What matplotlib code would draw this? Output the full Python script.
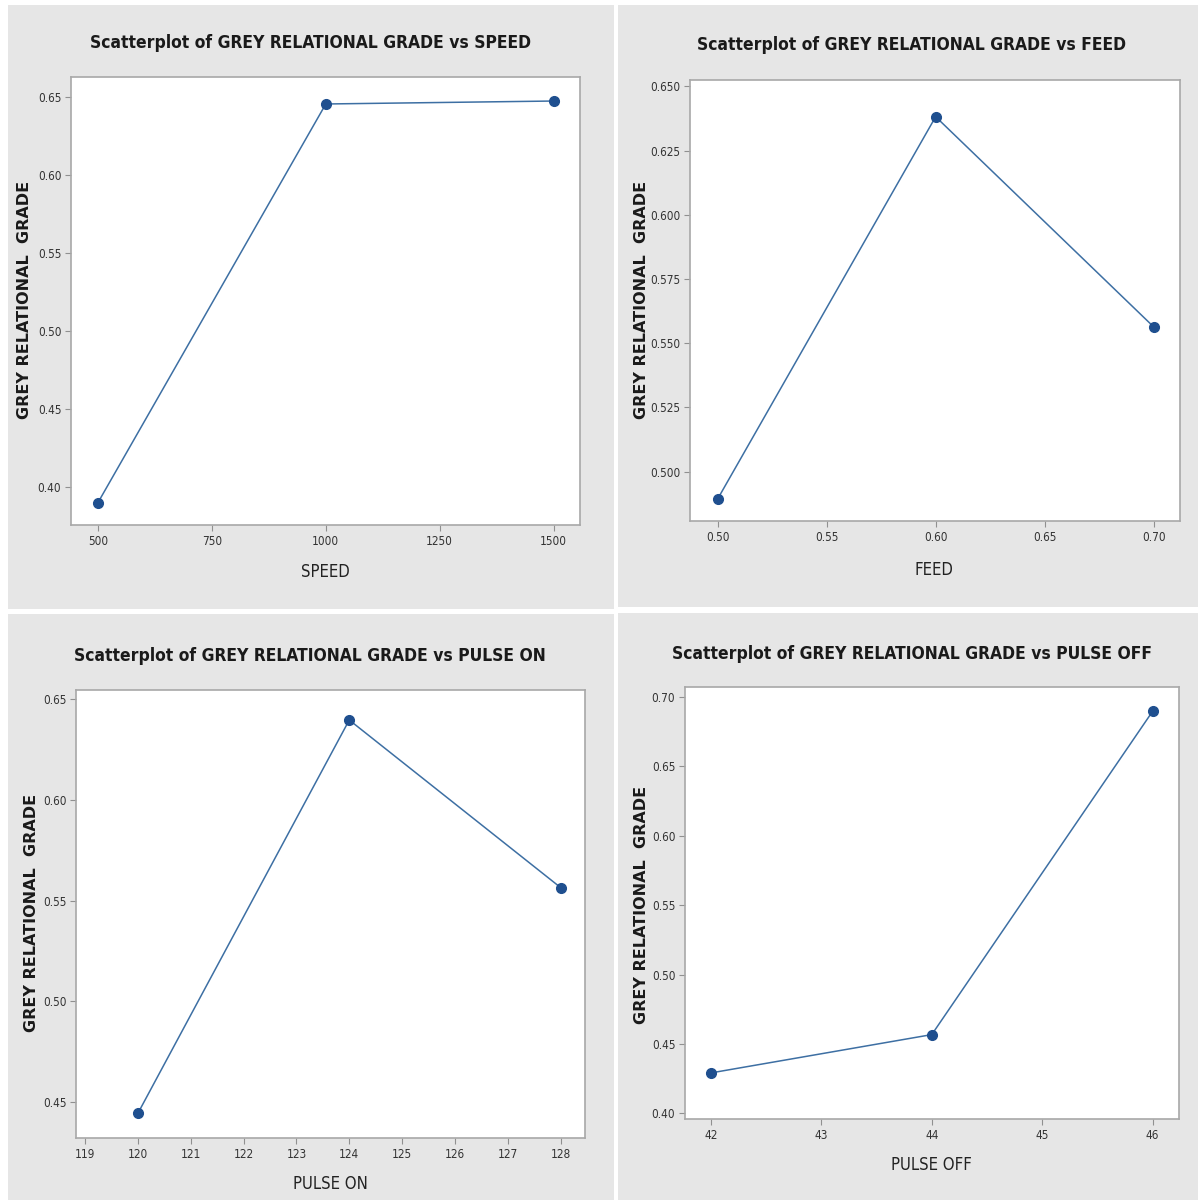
import matplotlib
matplotlib.use("Agg")
import matplotlib.pyplot as plt
from matplotlib.patches import Rectangle
from matplotlib import font_manager as fm

W, H = 1198, 1200

# Data
speed = [500, 1000, 1500]
grg_speed = [0.390, 0.6455, 0.6474]
feed = [0.50, 0.60, 0.70]
grg_feed = [0.4894, 0.6382, 0.5564]
pulse_on = [120, 124, 128]
grg_pulse_on = [0.4443, 0.6396, 0.5564]
pulse_off = [42, 44, 46]
grg_pulse_off = [0.4292, 0.4568, 0.6897]

speed_ticks = [500, 750, 1000, 1250, 1500]
speed_ytick = [0.40, 0.45, 0.50, 0.55, 0.60, 0.65]
feed_ticks = [0.50, 0.55, 0.60, 0.65, 0.70]
feed_ytick = [0.500, 0.525, 0.550, 0.575, 0.600, 0.625, 0.650]
pon_ticks = list(range(119, 129))
pon_ytick = [0.45, 0.50, 0.55, 0.60, 0.65]
poff_ticks = [42, 43, 44, 45, 46]
poff_ytick = [0.40, 0.45, 0.50, 0.55, 0.60, 0.65, 0.70]

cond = [f for f in fm.fontManager.ttflist if f.name == 'DejaVu Sans' and f.stretch == 'condensed']
NARROW = ['DejaVu Sans']
STRETCH = 'condensed' if cond else 'normal'
WIDE = ['DejaVu Sans']

fig = plt.figure(figsize=(W / 100, H / 100), dpi=100)
fig.patch.set_facecolor('white')

def px_rect(x0, y0, x1, y1):
    return [x0 / W, 1 - y1 / H, (x1 - x0) / W, (y1 - y0) / H]

panels = [
    (8, 5, 614, 609),
    (618, 5, 1198, 607),
    (8, 614, 614, 1200),
    (618, 613, 1198, 1200),
]
for (x0, y0, x1, y1) in panels:
    r = px_rect(x0, y0, x1, y1)
    fig.patches.append(Rectangle((r[0], r[1]), r[2], r[3], transform=fig.transFigure,
                                 facecolor='#e6e6e6', edgecolor='none', zorder=-5))

specs = [
    dict(box=(71, 77, 580, 525), x=speed, y=grg_speed, xt=speed_ticks, yt=speed_ytick,
         xlim=(440.7, 1558), ylim=(0.3756, 0.6628), yfmt='{:.2f}', xfmt='{:.0f}',
         title='Scatterplot of GREY RELATIONAL GRADE vs SPEED', title_xy=(311, 43),
         xlabel='SPEED', xl_xy=(325, 572), ylabel_x=25, ylabel_y=300),
    dict(box=(690, 80, 1180, 521), x=feed, y=grg_feed, xt=feed_ticks, yt=feed_ytick,
         xlim=(0.4873, 0.7121), ylim=(0.4808, 0.6525), yfmt='{:.3f}', xfmt='{:.2f}',
         title='Scatterplot of GREY RELATIONAL GRADE vs FEED', title_xy=(912, 45),
         xlabel='FEED', xl_xy=(934, 570), ylabel_x=641, ylabel_y=300),
    dict(box=(76, 690, 585, 1138), x=pulse_on, y=grg_pulse_on, xt=pon_ticks, yt=pon_ytick,
         xlim=(118.83, 128.46), ylim=(0.4321, 0.6545), yfmt='{:.2f}', xfmt='{:.0f}',
         title='Scatterplot of GREY RELATIONAL GRADE vs PULSE ON', title_xy=(310, 656),
         xlabel='PULSE ON', xl_xy=(330, 1184), ylabel_x=32, ylabel_y=913),
    dict(box=(685, 687, 1179, 1119), x=pulse_off, y=grg_pulse_off, xt=poff_ticks, yt=poff_ytick,
         xlim=(41.765, 46.239), ylim=(0.396, 0.7072), yfmt='{:.2f}', xfmt='{:.0f}',
         title='Scatterplot of GREY RELATIONAL GRADE vs PULSE OFF', title_xy=(912, 654),
         xlabel='PULSE OFF', xl_xy=(931, 1165), ylabel_x=642, ylabel_y=905),
]

tsize = 12.5 if STRETCH == 'condensed' else 11
ticksize = 8.5 if STRETCH == 'condensed' else 8
xlsize = 12 if STRETCH == 'condensed' else 11

for s in specs:
    ax = fig.add_axes(px_rect(*s['box']))
    ax.set_facecolor('white')
    ax.plot(s['x'], s['y'], color='#3d6fa3', linewidth=1.1, zorder=2)
    ax.plot(s['x'], s['y'], linestyle='none', marker='o', markersize=7,
            markerfacecolor='#1f4f8f', markeredgecolor='#1f4f8f', zorder=3)
    ax.set_xlim(*s['xlim'])
    ax.set_ylim(*s['ylim'])
    ax.set_xticks(s['xt'])
    ax.set_xticklabels([s['xfmt'].format(v) for v in s['xt']], family=NARROW,
                       stretch=STRETCH, fontsize=ticksize)
    ax.set_yticks(s['yt'])
    ax.set_yticklabels([s['yfmt'].format(v) for v in s['yt']], family=NARROW,
                       stretch=STRETCH, fontsize=ticksize)
    for sp in ax.spines.values():
        sp.set_color('#a8a8a8')
        sp.set_linewidth(1.2)
    ax.tick_params(direction='out', length=4, width=0.8, color='#909090',
                   labelcolor='#333333', pad=3)
    tx, ty = s['title_xy']
    fig.text(tx / W, 1 - ty / H, s['title'], ha='center', va='center',
             family=NARROW, stretch=STRETCH, fontweight='bold', fontsize=tsize, color='#1a1a1a')
    lx, ly = s['xl_xy']
    fig.text(lx / W, 1 - ly / H, s['xlabel'], ha='center', va='center',
             family=NARROW, stretch=STRETCH, fontsize=xlsize, color='#222222')
    fig.text(s['ylabel_x'] / W, 1 - s['ylabel_y'] / H, 'GREY RELATIONAL  GRADE',
             ha='center', va='center', rotation=90, family=WIDE,
             fontweight='bold', fontsize=11.5, color='#1a1a1a')

fig.savefig('out.png', dpi=100, facecolor='white')
